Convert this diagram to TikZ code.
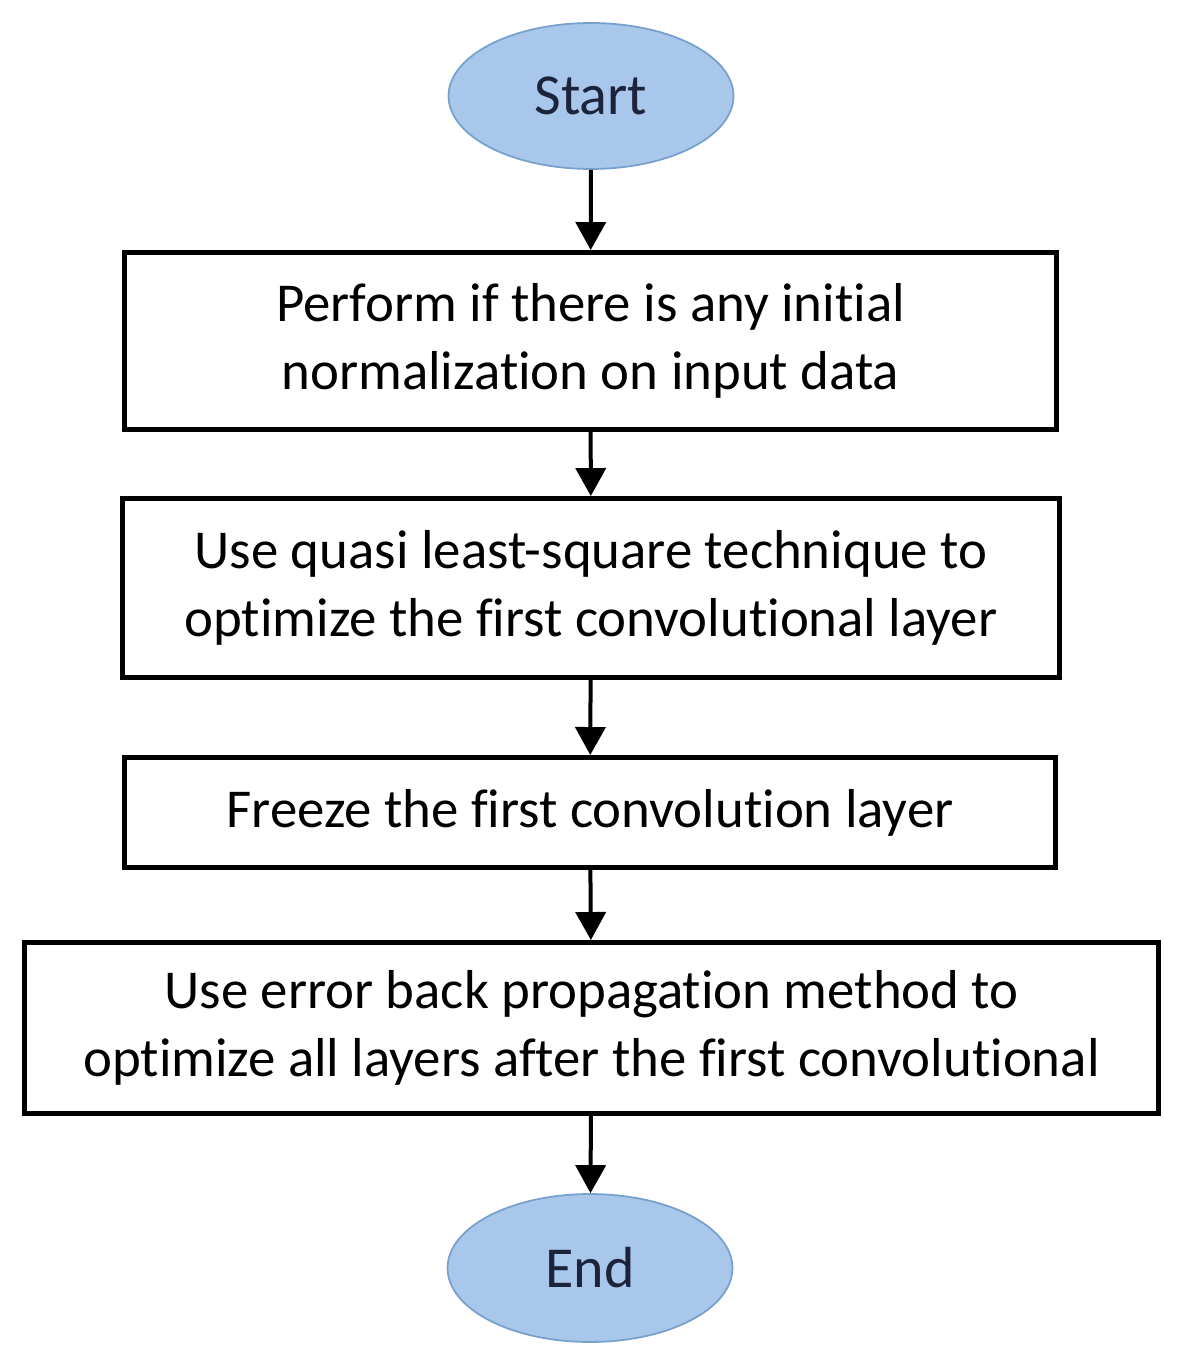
\documentclass[tikz,border=0pt]{standalone}
\usepackage{fontspec}
\setmainfont{Carlito}[Ligatures=NoCommon]
\usepackage{xcolor}
\definecolor{flblue}{RGB}{169,199,234}
\definecolor{flblueline}{RGB}{120,160,205}
\definecolor{flnavy}{RGB}{28,36,60}
\usetikzlibrary{arrows.meta,positioning,shapes.geometric}
\tikzset{
  term/.style={draw=flblueline, line width=1pt, ellipse, fill=flblue, text=flnavy,
               inner sep=0pt, font=\fontsize{33}{40}\selectfont},
  procbox/.style={draw=black, line width=0.1cm, rectangle, inner sep=0pt, align=center,
                  font=\fontsize{31.2}{38.5}\selectfont},
  flow/.style={line width=0.08cm, -{Triangle[width=0.6cm, length=0.56cm]}},
}
\begin{document}
\begin{tikzpicture}[x=0.02cm, y=-0.02cm]
\useasboundingbox (0,0) rectangle (1196,1371);
% Terminals
\node[term, minimum width=5.7cm, minimum height=2.92cm] (start) at (591,96) {Start};
\node[term, minimum width=5.7cm, minimum height=2.96cm] (end) at (590,1268) {End};
% Process steps
\node[procbox, minimum width=18.64cm, minimum height=3.54cm] (norm) at (590.5,341)
  {Perform if there is any initial\\normalization on input data};
\node[procbox, minimum width=18.74cm, minimum height=3.58cm] (quasi) at (591,588)
  {Use quasi least-square technique to\\optimize the first convolutional layer};
\node[procbox, minimum width=18.62cm, minimum height=2.2cm] (freeze) at (590,812.5)
  {Freeze the first convolution layer};
\node[procbox, minimum width=22.68cm, minimum height=3.42cm] (backprop) at (591.5,1028)
  {Use error back propagation method to\\optimize all layers after the first convolutional};
% Connectors
\draw[flow] (start) -- (norm);
\draw[flow] (norm) -- (quasi);
\draw[flow] (quasi) -- (freeze);
\draw[flow] (freeze) -- (backprop);
\draw[flow] (backprop) -- (end);
\end{tikzpicture}
\end{document}
